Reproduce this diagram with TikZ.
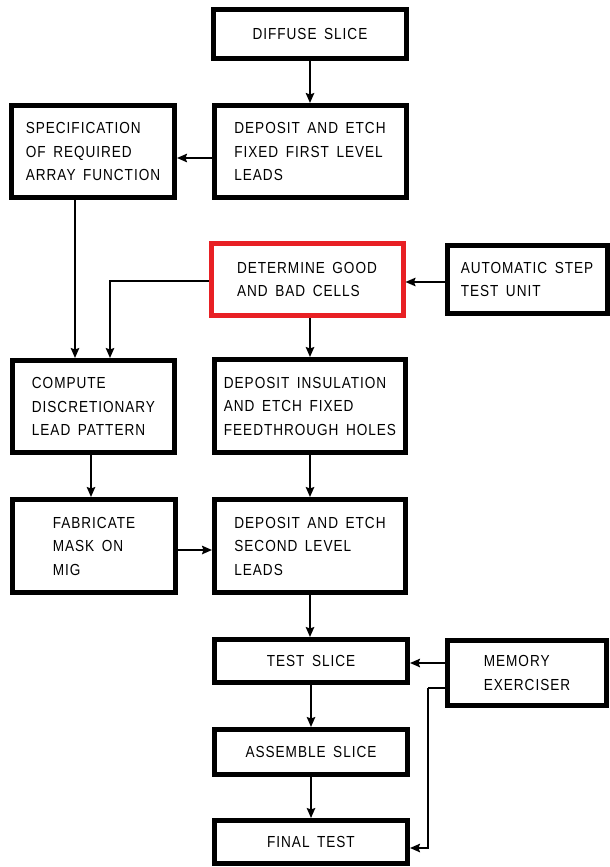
\documentclass[tikz,border=0pt]{standalone}
\usepackage{fontspec}
\setmainfont{Liberation Sans}[FakeStretch=0.85, LetterSpace=6, WordSpace=1.6]
\usetikzlibrary{arrows.meta}
\definecolor{detred}{RGB}{232,32,36}
\begin{document}
\begin{tikzpicture}[x=1pt,y=-1pt,
  stepbox/.style={draw=black, line width=5pt, fill=white, align=left,
    inner sep=0pt, font=\fontsize{16}{23.5}\selectfont},
  conn/.style={line width=1.8pt, -{Stealth[length=10pt,width=8.5pt,inset=1.5pt]}},
  wire/.style={line width=1.8pt}]
\useasboundingbox (0,0) rectangle (610,867);
\node[stepbox, minimum width=193pt, minimum height=49pt] (diffuse) at (310,34) {DIFFUSE SLICE};
\node[stepbox, minimum width=192pt, minimum height=92pt] (dep1) at (310,151.5) {DEPOSIT AND ETCH\\FIXED FIRST LEVEL\\LEADS};
\node[stepbox, minimum width=163pt, minimum height=92pt] (spec) at (93,151.5) {SPECIFICATION\\OF REQUIRED\\ARRAY FUNCTION};
\node[stepbox, draw=detred, minimum width=192pt, minimum height=72pt] (det) at (307,279.5) {DETERMINE GOOD\\AND BAD CELLS};
\node[stepbox, minimum width=160pt, minimum height=68pt] (auto) at (527,279.5) {AUTOMATIC STEP\\TEST UNIT};
\node[stepbox, minimum width=162pt, minimum height=92pt] (compute) at (93.5,406.5) {COMPUTE\\DISCRETIONARY\\LEAD PATTERN};
\node[stepbox, minimum width=191pt, minimum height=93pt] (depins) at (310,406) {DEPOSIT INSULATION\\AND ETCH FIXED\\FEEDTHROUGH HOLES};
\node[stepbox, minimum width=163pt, minimum height=93pt] (fab) at (94,546) {FABRICATE\\MASK ON\\MIG};
\node[stepbox, minimum width=191pt, minimum height=93pt] (dep2) at (310,546) {DEPOSIT AND ETCH\\SECOND LEVEL\\LEADS};
\node[stepbox, minimum width=193pt, minimum height=43pt] (test) at (311,661) {TEST SLICE};
\node[stepbox, minimum width=159pt, minimum height=65pt] (mem) at (527,673) {MEMORY\\EXERCISER};
\node[stepbox, minimum width=193pt, minimum height=45pt] (assemble) at (311,752) {ASSEMBLE SLICE};
\node[stepbox, minimum width=193pt, minimum height=43pt] (final) at (311,842) {FINAL TEST};
\coordinate (memturn) at (428,688);
% connectors
\draw[conn] (diffuse.south) -- (dep1.north);
\draw[conn] ([yshift=-6.5pt]dep1.west) -- ([yshift=-6.5pt]dep1.west -| spec.east);
\draw[conn] ([xshift=-18pt]spec.south) -- ([xshift=-18pt]spec.south |- compute.north);
\draw[conn] ([yshift=-1.5pt]det.west) -| ([xshift=16.5pt]compute.north);
\draw[conn] ([yshift=-2.5pt]auto.west) -- ([yshift=-2.5pt]auto.west -| det.east);
\draw[conn] (det.south -| depins.north) -- (depins.north);
\draw[conn] ([xshift=-2.5pt]compute.south) -- ([xshift=-2.5pt]compute.south |- fab.north);
\draw[conn] (depins.south) -- (dep2.north);
\draw[conn] ([yshift=-4pt]fab.east) -- ([yshift=-4pt]fab.east -| dep2.west);
\draw[conn] (dep2.south) -- (dep2.south |- test.north);
\draw[conn] ([yshift=10pt]mem.west) -- ([yshift=10pt]mem.west -| test.east);
\draw[wire] (memturn -| mem.west) -- (memturn);
\draw[conn] (memturn) |- ([yshift=-6pt]final.east);
\draw[conn] (test.south) -- (assemble.north);
\draw[conn] (assemble.south) -- (final.north);
\end{tikzpicture}
\end{document}
